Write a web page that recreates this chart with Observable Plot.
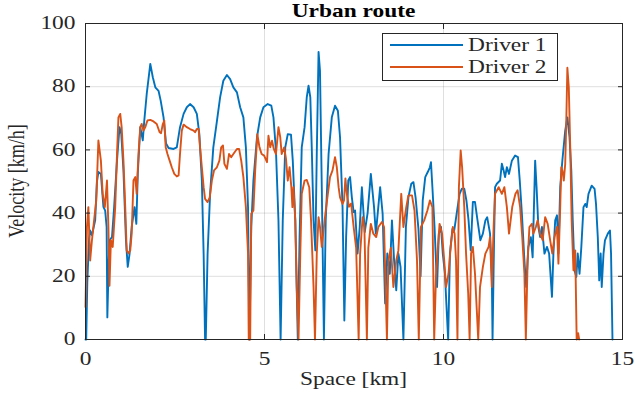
<!DOCTYPE html>
<html><head><meta charset="utf-8">
<script src="https://cdn.jsdelivr.net/npm/d3@7"></script>
<script src="https://cdn.jsdelivr.net/npm/@observablehq/plot@0.6"></script>
<style>html,body{margin:0;padding:0;background:#fff} svg{display:block}</style>
</head><body><div id="chart"></div>
<script>
const titleText = "Urban route";
const xLabel = "Space [km]";
const yLabel = "Velocity [km/h]";
const seriesNames = ["Driver 1", "Driver 2"];
const seriesColors = ["#0072BD", "#D95319"];
const xTicks = [0, 5, 10, 15];
const yTicks = [0, 20, 40, 60, 80, 100];

const driver1X = [0,0.02,0.05,0.1,0.13,0.18,0.27,0.32,0.36,0.43,0.5,0.55,0.59,0.61,0.65,0.67,0.74,0.8,0.88,0.95,1.0,1.06,1.13,1.18,1.23,1.29,1.37,1.42,1.46,1.53,1.6,1.64,1.71,1.81,1.88,1.95,2.04,2.1,2.18,2.25,2.32,2.46,2.55,2.64,2.74,2.83,2.92,3.02,3.11,3.18,3.25,3.3,3.34,3.36,3.41,3.48,3.57,3.67,3.76,3.85,3.95,4.04,4.13,4.23,4.32,4.41,4.48,4.54,4.58,4.63,4.69,4.79,4.88,4.97,5.09,5.19,5.25,5.32,5.39,5.45,5.51,5.58,5.65,5.74,5.79,5.86,5.93,5.98,6.04,6.12,6.18,6.23,6.28,6.32,6.37,6.42,6.46,6.51,6.55,6.6,6.66,6.71,6.79,6.88,6.97,7.05,7.11,7.18,7.23,7.28,7.34,7.39,7.44,7.49,7.53,7.6,7.66,7.72,7.8,7.88,7.97,8.06,8.11,8.23,8.3,8.37,8.43,8.5,8.56,8.62,8.68,8.74,8.8,8.88,8.95,9.02,9.1,9.16,9.22,9.3,9.36,9.42,9.49,9.56,9.62,9.65,9.69,9.75,9.82,9.87,9.93,9.98,10.04,10.08,10.13,10.18,10.25,10.3,10.38,10.45,10.51,10.58,10.64,10.7,10.76,10.82,10.88,10.95,11.03,11.1,11.17,11.22,11.3,11.35,11.37,11.41,11.44,11.49,11.58,11.63,11.68,11.72,11.77,11.83,11.91,12.0,12.08,12.13,12.19,12.26,12.31,12.37,12.44,12.49,12.56,12.6,12.65,12.7,12.75,12.82,12.89,12.95,13.03,13.07,13.12,13.17,13.21,13.26,13.32,13.4,13.46,13.52,13.57,13.61,13.66,13.71,13.75,13.8,13.85,13.91,13.96,14.0,14.05,14.14,14.22,14.26,14.31,14.35,14.39,14.42,14.47,14.51,14.59,14.65,14.68,14.72];
const driver1V = [0,0,18,32,34.5,33,37.7,50,53,52.4,42,40.8,35.6,7,25,31.4,32.4,41.9,56.6,67.2,65,53.5,31.4,23,27,35.6,41.9,36.6,52.4,67.2,63,69,77.7,87.2,83,79.8,78.7,75.6,70.3,62,60.6,60.3,60.8,67.2,71.4,73.5,74.5,73.5,71.4,65,50.3,27,0,0,27,46,60.8,69,76.6,81.9,83.7,82.4,79.8,78.2,73.5,70.3,60.8,41.9,0,35.6,50.3,64,70.3,73.5,74.5,74,70.3,59.8,37.7,0,37.7,60.8,65,64.8,56.6,37.7,0,32.4,60.8,67.2,76.6,80.3,76.6,60.8,37.7,28.2,58.7,91,85,48.2,0,37.7,58.7,70.3,74,72.4,64,41.9,6,32.4,50.3,51.4,45,40.3,40.8,27.2,35.6,48.2,34,40,52.4,41.9,33.5,48.2,39.8,11.4,27.2,20.8,37.7,25,15.6,27.2,23,0,35.6,45,49.3,49.8,45,35,20,44,51.4,53,54.5,56.1,48.2,35.6,16.6,33.5,35.6,27.2,20.8,11.4,0,27.2,35,34.5,40.8,46.1,47.7,47.7,44,37.7,28.2,43.5,43.5,37.7,31.4,33.5,37.7,38.7,33.5,20,0,30,48.2,49.3,50.3,55.6,53.5,51.4,54.5,52.4,56.6,58.2,57.7,50.3,39.8,25,16.6,29.3,32.4,26,56.6,48.2,35.6,32.4,35.6,27.2,29.3,27.2,13.5,27.2,37.7,39.3,27.2,48.2,56.6,66.1,70.3,64,53.5,37.7,21.9,19.8,27.2,20.8,29.3,41.9,42.9,41.9,46.1,48.7,47.7,42.9,32.4,18.7,27.2,16.6,27.2,31.4,33.5,34.5,27.2,0];

const driver2X = [0,0.04,0.08,0.13,0.18,0.22,0.3,0.36,0.43,0.48,0.54,0.6,0.64,0.67,0.71,0.76,0.83,0.88,0.92,0.97,1.01,1.06,1.11,1.15,1.2,1.25,1.29,1.34,1.39,1.43,1.48,1.53,1.57,1.62,1.67,1.73,1.81,1.9,1.99,2.07,2.11,2.16,2.2,2.24,2.29,2.35,2.41,2.48,2.55,2.6,2.64,2.69,2.74,2.83,2.92,3.02,3.06,3.11,3.16,3.2,3.25,3.3,3.34,3.41,3.47,3.53,3.59,3.67,3.74,3.79,3.84,3.88,3.95,4.01,4.07,4.13,4.23,4.29,4.35,4.41,4.48,4.54,4.56,4.6,4.63,4.69,4.74,4.8,4.86,4.92,4.99,5.07,5.11,5.16,5.21,5.26,5.32,5.39,5.44,5.48,5.55,5.6,5.65,5.7,5.75,5.78,5.81,5.86,5.9,5.95,6.0,6.04,6.12,6.18,6.25,6.3,6.37,6.41,6.46,6.51,6.55,6.6,6.65,6.7,6.77,6.83,6.9,6.97,7.02,7.07,7.11,7.18,7.22,7.26,7.3,7.36,7.42,7.49,7.56,7.63,7.67,7.74,7.79,7.86,7.9,7.97,8.04,8.12,8.18,8.28,8.34,8.42,8.46,8.53,8.6,8.68,8.74,8.82,8.88,8.96,9.02,9.12,9.19,9.26,9.31,9.37,9.46,9.55,9.62,9.69,9.74,9.79,9.83,9.89,9.96,10.02,10.07,10.14,10.2,10.26,10.31,10.35,10.39,10.43,10.48,10.52,10.58,10.63,10.69,10.73,10.77,10.82,10.88,10.93,10.97,11.02,11.1,11.17,11.26,11.3,11.35,11.4,11.44,11.54,11.63,11.7,11.77,11.83,11.92,12.01,12.07,12.14,12.2,12.26,12.3,12.35,12.4,12.47,12.51,12.58,12.63,12.7,12.77,12.84,12.91,12.98,13.04,13.1,13.17,13.21,13.26,13.29,13.32,13.36,13.4,13.43,13.46,13.5,13.54,13.58,13.63,13.68,13.72,13.76,13.79];
const driver2V = [10.3,35.6,41.9,25,31.4,35.6,44,63,56.6,46.1,41.9,50.3,35.6,17,31.4,29.3,41.9,58.7,70.3,71.4,67.2,56.6,41.9,28.2,27.2,28.2,33.5,50.3,51.4,46.1,58.7,67.2,68.2,66.1,67.2,69.3,69.5,69,68.2,65.6,65.3,68.2,69.3,60.8,58.7,56.6,54.5,52.4,51.6,51.9,58.7,66.1,68,67.2,66.6,66.1,65.6,66.6,66.6,60.8,54.5,48.2,44.5,43.5,45,50.3,53.5,54.5,56.6,60.8,61.4,55.6,54,58.7,57.7,58.7,60.3,60.3,56.6,51.4,41.9,27.2,0,0,39.8,40.8,53.5,65,60.8,58.7,58.2,56.1,64.5,60.8,62.9,60.3,58.7,67.2,64,58.7,60.8,57.2,50.3,54.5,48.2,41.9,48.2,37.7,16.6,0,27.2,46.1,50.3,50.5,48.2,37.7,16.6,0,27.2,38.7,35.6,29.3,34.5,39.8,46.1,51.4,53.5,57.7,54.5,48.2,45,42.9,44,51,46,42,43,35.6,29,0,27,38.7,35.6,0,29,36.6,33.5,32.4,35.6,37.2,35.6,0,25,29,16.6,25,28.2,46.1,35.6,41.9,45.6,45.6,40.8,25,0,35.6,37.7,40.8,44,41.9,0,20,27,36.6,33.5,25,16.6,20.8,29.3,35.6,33.5,25,0,48.2,59.8,54.5,41.9,27.2,14.5,0,27.2,29.3,20.8,9.3,0,16.6,23,27.2,29.3,32.4,16.6,35.6,46.1,48.2,46.1,48.2,41.9,33.5,41.9,46.1,47.2,41.9,32.4,20.8,0,25,35.6,36.6,33.5,35.6,37.7,33.5,31.4,38.7,36.6,31.4,27.2,32.4,35.6,24,41.9,54.5,53.5,50.3,55.6,69.3,86,79.8,60.8,37.7,21.9,28.2,0,2,0];

const d1 = driver1X.map((x, i) => ({x, v: driver1V[i]}));
const d2 = driver2X.map((x, i) => ({x, v: driver2V[i]}));

const font = "'Liberation Serif','Times New Roman',serif";
const ink = "#262626";
const stretch = 1.3;

const plot = Plot.plot({
  width: 635, height: 393,
  marginLeft: 85, marginRight: 13, marginTop: 23, marginBottom: 54,
  style: {fontFamily: font, fontSize: "18px", color: ink, background: "#fff"},
  x: {domain: [0, 15]},
  y: {domain: [0, 100]},
  marks: [
    Plot.gridX(xTicks, {stroke: ink, strokeOpacity: 0.15}),
    Plot.gridY(yTicks, {stroke: ink, strokeOpacity: 0.15}),
    Plot.line(d1, {x: "x", y: "v", stroke: seriesColors[0], strokeWidth: 1.9}),
    Plot.line(d2, {x: "x", y: "v", stroke: seriesColors[1], strokeWidth: 1.9}),
    Plot.frame({stroke: ink, strokeWidth: 1}),
    Plot.axisX(xTicks, {anchor: "bottom", tickSize: -5, tickPadding: 18, label: null}),
    Plot.axisX(xTicks, {anchor: "top", tickSize: -5, fill: "none", label: null}),
    Plot.axisY(yTicks, {anchor: "left", tickSize: -5, tickPadding: 15, label: null}),
    Plot.axisY(yTicks, {anchor: "right", tickSize: -5, fill: "none", label: null})
  ]
});
document.getElementById("chart").appendChild(plot);

const svg = d3.select(plot);
svg.selectAll('g[aria-label$="tick label"] text').attr("transform", function() {
  return (this.getAttribute("transform") || "") + ` scale(${stretch},1)`;
});

const [x0, x1] = plot.scale("x").range;
const [y0, y1] = plot.scale("y").range;
const cx = (x0 + x1) / 2, cy = (y0 + y1) / 2;

function addText(g, tf, str, anchor) {
  return g.append("text").attr("transform", tf)
    .attr("text-anchor", anchor).attr("font-family", font).attr("font-size", 18)
    .attr("fill", ink).text(str);
}
addText(svg, `translate(${cx},17) scale(${stretch},1)`, titleText, "middle")
  .attr("font-weight", "bold").attr("fill", "#000");
addText(svg, `translate(${cx},385) scale(${stretch},1)`, xLabel, "middle");
addText(svg, `translate(24,${cy}) rotate(-90) scale(1,${stretch})`, yLabel, "middle");

const lg = svg.append("g");
lg.append("rect").attr("x", 382.5).attr("y", 33.5).attr("width", 175).attr("height", 47)
  .attr("fill", "#fff").attr("stroke", ink).attr("stroke-width", 1);
seriesNames.forEach((name, i) => {
  const yy = 45 + i * 22;
  lg.append("line").attr("x1", 390).attr("x2", 463).attr("y1", yy).attr("y2", yy)
    .attr("stroke", seriesColors[i]).attr("stroke-width", 1.9);
  addText(lg, `translate(468,${yy}) scale(${stretch},1)`, name, "start").attr("dy", "0.35em");
});
</script>
</body></html>
